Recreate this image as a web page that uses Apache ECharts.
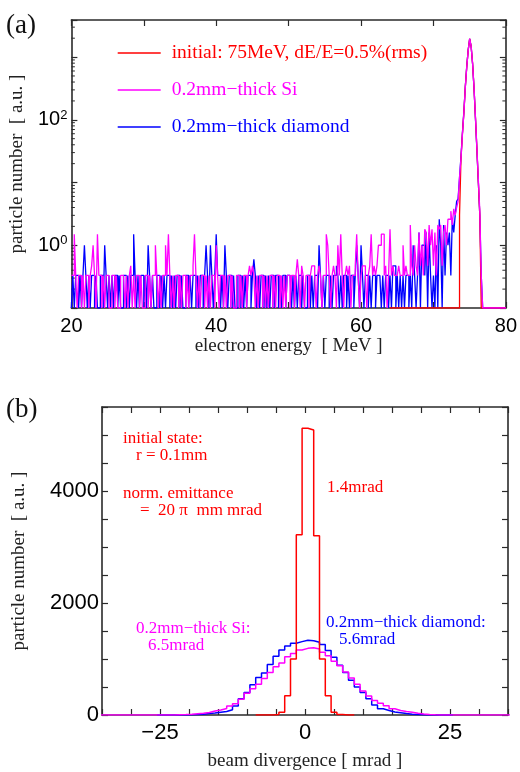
<!DOCTYPE html>
<html><head><meta charset="utf-8">
<script src="https://cdn.jsdelivr.net/npm/echarts@6/dist/echarts.min.js"></script>
<style>html,body{margin:0;padding:0;background:#fff}#c{width:520px;height:772px}</style>
</head><body><div id="c"></div><script>
// ---------- Panel (a): energy spectra, 0.2 MeV bins ----------
const energyStart = 20;      // MeV, left edge of first bin
const energyBin = 0.2;       // MeV
const initialStart = 64;     // MeV, left edge of first bin of the initial spectrum
const siCounts = [
0.33,0.33,1.5,0.33,0,0.33,0.33,0,0.33,0,0.33,0.33,0,0.33,0.47,1,0.33,0,1.5,0.33,0.33,0,0.33,0,0.33,
0.33,0,0,0.33,0.33,0,0.33,0,0,0.33,0.33,0.33,0,0.33,0,0.33,0.47,0,0.33,0,0.33,0.33,0,0.33,0,
0,0.33,0.33,0,0.33,0,0.33,0.33,1,0.33,0,0.33,0,0.33,0.33,1,0.33,1.5,0.33,0,0.33,0,0.33,0.33,0,
0.33,0,0.33,0.33,0,0.33,0,0.33,0.33,0.47,1.5,0.33,0,0.33,0,0.33,0.33,0,0.33,0,0.33,0,0.33,0.33,0,
1,0.33,0,0.33,0.33,0,0.33,0,0.33,0.33,0,0.33,0,0,0.33,0.33,0,0.33,0,0.33,0.33,0,0.33,0.47,0.33,
0.47,0.33,0,0.33,0,0.33,0.33,0,0.33,0,0.33,0,0.33,0.33,0,0.33,0,0.33,0.33,0,0.33,0,0.33,0,0.33,
0.33,0,0.33,0.33,0,0.33,0.6,0.33,0,0.47,0.33,0,0.33,0.33,0,0.33,0.47,0.47,0.33,0,0.33,0.47,0.33,0,0.33,
0.33,1.5,1,0.33,0,0.33,0.47,0.33,0,1,0.33,1.5,0.33,0,0.33,0.47,0.33,0.47,0,0.33,0.33,0.47,1.5,0.33,0,
0.33,0.47,0.47,0.33,0,0.33,0.47,1.5,0.33,0.47,0.33,0.47,1,1,1.5,1.5,0.33,0.47,0,0.33,1.8,0.33,0.47,0.33,0.33,
0.33,0.47,0.33,0.33,1,0.33,0.47,0.33,0.33,2.1,0.47,0.33,1,0.47,0.33,1.6,0.47,1,0.33,1.8,1.6,0.47,2.1,1,1.8,
0.47,1.6,0.33,2.1,1.8,2.1,0.47,1.6,2.1,1,2.6,2.6,3.5,2.1,3.8,3,4,5,12,24,58,128,330,700,1290,
1960,1500,800,330,110,35,11,3.5,0.33,0,0,0,0,0,0,0,0,0,0,0,0,0,0,0,0
];
const diamondCounts = [
0,0.33,0,0.33,0.33,0,0.33,0,0.33,1,0.33,0,0.33,0,0.33,0.33,0,0.33,0,0,0.33,0.33,0,1,0.33,
0,0.33,0,0.33,0,0.33,0.33,0,0.33,0,0,0.33,0.33,0,0.33,0,0.33,0.33,1.5,0.33,0,0.33,0,0.33,0.33,
0,0.33,0,1,0.33,0,0.33,0,0,0.33,0.33,0,0.33,0,0.33,0,0.33,0.33,0,0.33,0,0.33,0,0.33,0.33,
0,0.33,0,0,0.33,0.33,0,0.33,0,0.33,0.33,0,0.33,0,0.33,0.33,0,0.33,1,0.33,0,1,0.33,0,0.33,
1.5,0.33,0.33,0,0.33,0,1,0.33,0,0.33,0.33,0,0.33,0,0,0.33,0.33,0,0.33,0,0.33,0,0.33,0.33,0,
0.33,0.6,0.33,0,0.33,0,0.33,0.33,0,0.33,0,0.33,0,0.33,0.33,0,0.33,0.33,0,0.33,0,0.33,0.33,0,0.33,
0.33,0.33,0,0.33,0,0.33,0,0.33,0.33,0,0.33,0,0,0.33,0.33,0,0.33,0,0.33,0.33,0,1,0.33,0,0.33,
0,0.33,0.33,0,0.33,0,0.33,0.33,0.47,0.33,0,0.33,0,0.33,0.33,0,0.33,0,0.33,0.33,0,0.33,1,0.33,0,
1,0.33,0,0.33,0.33,0,0.33,0,0.33,0.33,0,0.33,0.33,0.33,0,0.33,0,0.33,0.33,0,0.33,0,0.47,0.47,0,
0.33,0,0.33,0,0.33,0,0.33,0.33,0,0.33,0,1,0.33,0,0.33,1.6,0,1,1,0.33,1.6,0,1.6,0.33,0,
0.33,0,1,0,2.6,1,0,2.1,0.33,1.6,1,1.6,0.33,2.6,1.6,3,5,5.5,12,26,62,135,340,720,1300,
1950,1480,790,320,105,33,10,3,0.33,0,0,0,0,0,0,0,0,0,0,0,0,0,0,0,0
];
const initialCounts = [
0,0,0,0,0,0,0,0,0,0,0,0,0,0,0,0,0,0,0,0,0,0,0,0,0,
0,0,0,0,0,0,0,0,0,0,0,0,0,0,0,0,0,0,0,0,0,0,0,3,24,
60,130,335,710,1300,1950,1490,800,325,108,34,10,3,0,0,0,0,0,0,0,0,0,0,0,0,
0,0,0,0,0
];
const seriesNamesA = ['initial: 75MeV, dE/E=0.5%(rms)', '0.2mm\u2212thick Si', '0.2mm\u2212thick diamond'];
const energyTickLabels = [20, 40, 60, 80];
const logTickLabels = [0, 2];   // exponents labelled on the log axis

// ---------- Panel (b): divergence histograms, 1 mrad bins ----------
const divBin = 1;
const divRedFirst = -8;
const divRed = [0,0,0,8,50,343,1000,3220,5120,5090,3200,1000,343,50,8,0,0];
const divDiamondFirst = -25;
const divDiamond = [0,0,0,0,0,
4,8,15,25,35,50,62,95,160,290,400,540,670,750,900,1050,1160,1230,1280,1310,
1335,1325,1300,1260,1150,1030,890,760,620,500,400,290,180,110,80,55,40,25,15,8,4,
0,0,0,0,0];
const divSiFirst = -35;
const divSi = [0,0,0,0,0,0,0,0,0,0,0,0,0,
4,8,14,22,30,45,70,90,115,160,200,280,390,470,550,650,760,860,930,1040,1100,1160,
1190,1200,1180,1120,1060,960,880,770,660,550,430,340,260,210,165,110,80,62,50,30,18,10,5,2,
0,0,0,0,0,0,0,0,0,0,0,0];
const divTickLabels = [-25, 0, 25];
const countTickLabels = [0, 2000, 4000];

// ---------- helpers ----------
const LOG_FLOOR = 0.1;
function stepPoints(leftEdge, width, vals, floor) {
  const pts = vals.map((v, i) => [+(leftEdge + i * width).toFixed(4), v > 0 ? v : floor]);
  const last = vals[vals.length - 1];
  pts.push([+(leftEdge + vals.length * width).toFixed(4), last > 0 ? last : floor]);
  return pts;
}
const RED = '#ff0000', MAG = '#ff00ff', BLUE = '#0000ff', AX = '#2a2a2a';
const SERIF = 'Liberation Serif', SANS = 'Liberation Sans';

const minorLog = [];
for (let e = -1; e <= 3; e++) for (let m = 2; m <= 9; m++) { const v = m * Math.pow(10, e); if (v < 3900) minorLog.push([20, v]); }

function frameAxis(extra) {
  return Object.assign({
    axisLine: { show: true, onZero: false, lineStyle: { color: AX, width: 1.6 } },
    axisTick: { show: true, inside: true, length: 6, lineStyle: { color: AX, width: 1.2 } },
    splitLine: { show: false },
    axisLabel: { show: false }
  }, extra);
}

const chart = echarts.init(document.getElementById('c'), null, { renderer: 'canvas' });
chart.setOption({
  animation: false,
  backgroundColor: '#fff',
  grid: [
    { left: 71, top: 20, width: 441, height: 288 },
    { left: 102, top: 407, width: 406, height: 309 }
  ],
  xAxis: [
    frameAxis({ gridIndex: 0, type: 'value', min: 20, max: 80, interval: 10, position: 'bottom',
      axisLabel: { show: true, margin: 8, fontFamily: SANS, fontSize: 20, color: '#000',
        formatter: v => energyTickLabels.indexOf(v) >= 0 ? String(v) : '' },
      name: 'electron energy  [ MeV ]', nameLocation: 'middle', nameGap: 27,
      nameTextStyle: { fontFamily: SERIF, fontSize: 19, color: '#222' } }),
    frameAxis({ gridIndex: 0, type: 'value', min: 20, max: 80, interval: 10, position: 'top' }),
    frameAxis({ gridIndex: 1, type: 'value', min: -35, max: 35, interval: 5, position: 'bottom',
      axisLabel: { show: true, margin: 7, fontFamily: SANS, fontSize: 22, color: '#000',
        formatter: v => divTickLabels.indexOf(v) >= 0 ? String(v).replace('-', '\u2212') : '' },
      name: 'beam divergence [ mrad ]', nameLocation: 'middle', nameGap: 37,
      nameTextStyle: { fontFamily: SERIF, fontSize: 19, color: '#222' } }),
    frameAxis({ gridIndex: 1, type: 'value', min: -35, max: 35, interval: 5, position: 'top' })
  ],
  yAxis: [
    frameAxis({ gridIndex: 0, type: 'log', logBase: 10, min: LOG_FLOOR, max: 3900, position: 'left',
      axisLabel: { show: true, margin: 4, color: '#000',
        formatter: v => { const e = Math.round(Math.log10(v)); return logTickLabels.indexOf(e) >= 0 ? '{b|10}{s|' + e + '}' : ''; },
        rich: { b: { fontFamily: SANS, fontSize: 20, color: '#000', lineHeight: 22 },
                s: { fontFamily: SANS, fontSize: 13, color: '#000', verticalAlign: 'top', lineHeight: 14 } } },
      name: 'particle number  [ a.u. ]', nameLocation: 'middle', nameGap: 42, nameRotate: 90,
      nameTextStyle: { fontFamily: SERIF, fontSize: 19, color: '#222' } }),
    frameAxis({ gridIndex: 0, type: 'log', logBase: 10, min: LOG_FLOOR, max: 3900, position: 'right' }),
    frameAxis({ gridIndex: 1, type: 'value', min: 0, max: 5500, interval: 500, position: 'left',
      axisLabel: { show: true, margin: 3, fontFamily: SANS, fontSize: 22, color: '#000',
        formatter: v => countTickLabels.indexOf(v) >= 0 ? String(v) : '' },
      name: 'particle number  [ a.u. ]', nameLocation: 'middle', nameGap: 73, nameRotate: 90,
      nameTextStyle: { fontFamily: SERIF, fontSize: 19, color: '#222' } }),
    frameAxis({ gridIndex: 1, type: 'value', min: 0, max: 5500, interval: 500, position: 'right' })
  ],
  legend: {
    data: [
      { name: seriesNamesA[0], textStyle: { color: RED } },
      { name: seriesNamesA[1], textStyle: { color: MAG } },
      { name: seriesNamesA[2], textStyle: { color: BLUE } }
    ],
    orient: 'vertical', left: 117, top: 43, padding: 0, itemWidth: 43, itemHeight: 14, itemGap: 17,
    selectedMode: false,
    itemStyle: { opacity: 0, borderWidth: 0 },
    lineStyle: { width: 1.4 },
    textStyle: { fontFamily: SERIF, fontSize: 19.5, padding: [0, 0, 0, 6] }
  },
  series: [
    { name: seriesNamesA[2], type: 'line', xAxisIndex: 0, yAxisIndex: 0, step: 'end', symbol: 'none',
      lineStyle: { color: BLUE, width: 1.3 }, itemStyle: { color: BLUE },
      data: stepPoints(energyStart, energyBin, diamondCounts, LOG_FLOOR) },
    { name: seriesNamesA[0], type: 'line', xAxisIndex: 0, yAxisIndex: 0, step: 'end', symbol: 'none',
      lineStyle: { color: RED, width: 1.3 }, itemStyle: { color: RED },
      data: stepPoints(initialStart, energyBin, initialCounts, LOG_FLOOR) },
    { name: seriesNamesA[1], type: 'line', xAxisIndex: 0, yAxisIndex: 0, step: 'end', symbol: 'none',
      lineStyle: { color: MAG, width: 1.3 }, itemStyle: { color: MAG },
      data: stepPoints(energyStart, energyBin, siCounts, LOG_FLOOR) },
    { type: 'custom', xAxisIndex: 0, yAxisIndex: 0, silent: true, data: minorLog,
      renderItem: function (params, api) {
        const y = api.coord([api.value(0), api.value(1)])[1];
        const cs = params.coordSys;
        return { type: 'group', children: [
          { type: 'line', shape: { x1: cs.x, y1: y, x2: cs.x + 3.5, y2: y }, style: { stroke: AX, lineWidth: 1 } },
          { type: 'line', shape: { x1: cs.x + cs.width - 3.5, y1: y, x2: cs.x + cs.width, y2: y }, style: { stroke: AX, lineWidth: 1 } }
        ] };
      } },
    { name: 'b-diamond', type: 'line', xAxisIndex: 2, yAxisIndex: 2, step: 'end', symbol: 'none',
      lineStyle: { color: BLUE, width: 1.5 },
      data: stepPoints(divDiamondFirst - divBin / 2, divBin, divDiamond, 0) },
    { name: 'b-si', type: 'line', xAxisIndex: 2, yAxisIndex: 2, step: 'end', symbol: 'none',
      lineStyle: { color: MAG, width: 1.5 },
      data: stepPoints(divSiFirst - divBin / 2, divBin, divSi, 0) },
    { name: 'b-initial', type: 'line', xAxisIndex: 2, yAxisIndex: 2, step: 'end', symbol: 'none',
      lineStyle: { color: RED, width: 1.5 },
      data: stepPoints(divRedFirst - divBin / 2, divBin, divRed, 0) }
  ],
  graphic: [
    { type: 'text', left: 6, top: 12, style: { text: '(a)', font: '27px "Liberation Serif"', fill: '#111' } },
    { type: 'text', left: 6, top: 396, style: { text: '(b)', font: '27px "Liberation Serif"', fill: '#111' } },
    { type: 'text', x: 123, y: 439, style: { text: 'initial state:', font: '17px "Liberation Serif"', fill: RED, verticalAlign: 'middle' } },
    { type: 'text', x: 136, y: 456, style: { text: 'r = 0.1mm', font: '17px "Liberation Serif"', fill: RED, verticalAlign: 'middle' } },
    { type: 'text', x: 123, y: 494, style: { text: 'norm. emittance', font: '17px "Liberation Serif"', fill: RED, verticalAlign: 'middle' } },
    { type: 'text', x: 140, y: 511, style: { text: '=  20 \u03c0  mm mrad', font: '17px "Liberation Serif"', fill: RED, verticalAlign: 'middle' } },
    { type: 'text', x: 327, y: 488, style: { text: '1.4mrad', font: '17px "Liberation Serif"', fill: RED, verticalAlign: 'middle' } },
    { type: 'text', x: 136, y: 629, style: { text: '0.2mm\u2212thick Si:', font: '17px "Liberation Serif"', fill: MAG, verticalAlign: 'middle' } },
    { type: 'text', x: 148, y: 646, style: { text: '6.5mrad', font: '17px "Liberation Serif"', fill: MAG, verticalAlign: 'middle' } },
    { type: 'text', x: 326, y: 623, style: { text: '0.2mm\u2212thick diamond:', font: '17px "Liberation Serif"', fill: BLUE, verticalAlign: 'middle' } },
    { type: 'text', x: 339, y: 640, style: { text: '5.6mrad', font: '17px "Liberation Serif"', fill: BLUE, verticalAlign: 'middle' } }
  ]
});
</script></body></html>
